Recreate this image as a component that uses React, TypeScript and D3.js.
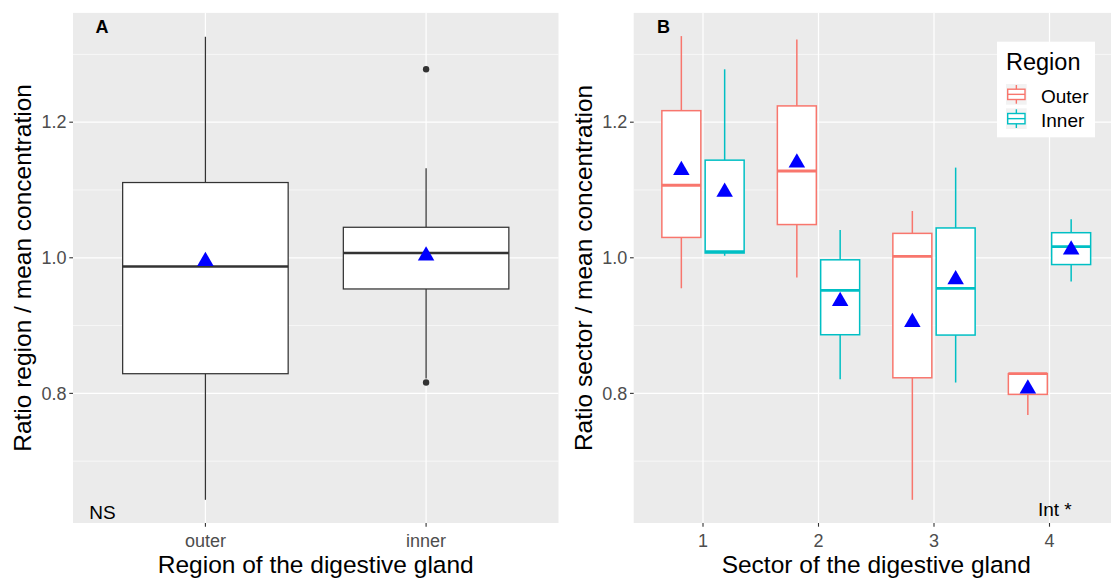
import React from "react";
import * as d3 from "d3";

// ---------- data ----------
const leftCats = ["outer", "inner"];
const leftLow = [0.643, 0.822];
const leftQ1 = [0.829, 0.954];
const leftMed = [0.987, 1.007];
const leftQ3 = [1.111, 1.045];
const leftHigh = [1.326, 1.132];
const leftMean = [0.995, 1.003];
const leftOutliers = [[], [1.278, 0.816]];

const sectors = ["1", "2", "3", "4"];
const regions = ["Outer", "Inner"];
const regionColors = ["#F8766D", "#00BFC4"];
const outerLow = [0.955, 0.971, 0.643, 0.768];
const outerQ1 = [1.03, 1.049, 0.823, 0.7985];
const outerMed = [1.107, 1.128, 1.002, 0.829];
const outerQ3 = [1.217, 1.224, 1.036, 0.829];
const outerHigh = [1.327, 1.322, 1.069, 0.829];
const outerMean = [1.129, 1.14, 0.905, 0.807];
const innerLow = [1.003, 0.821, 0.816, 0.965];
const innerQ1 = [1.007, 0.8865, 0.886, 0.99];
const innerMed = [1.009, 0.952, 0.955, 1.0166];
const innerQ3 = [1.144, 0.997, 1.044, 1.037];
const innerHigh = [1.278, 1.041, 1.133, 1.057];
const innerMean = [1.097, 0.936, 0.968, 1.012];

const yTicks = [0.8, 1.0, 1.2];
const yTickLabels = ["0.8", "1.0", "1.2"];
const yMinor = [0.7, 0.9, 1.1, 1.3];

const FONT = "'Liberation Sans', Arial, Helvetica, sans-serif";

type Box = { x: number; hw: number; low: number; q1: number; med: number; q3: number; high: number; mean: number; outliers: number[]; color: string; sw: number; mw: number };

const PANEL_TOP = 12.9;
const PANEL_BOTTOM = 523;

function makeY() {
  const all = [...leftLow, ...leftHigh, ...outerLow, ...outerHigh, ...innerLow, ...innerHigh, ...leftOutliers.flat()];
  const lo = d3.min(all) as number;
  const hi = d3.max(all) as number;
  const pad = (hi - lo) * 0.05;
  return d3.scaleLinear().domain([lo - pad, hi + pad]).range([PANEL_BOTTOM, PANEL_TOP]);
}

function Tri({ cx, cy }: { cx: number; cy: number }) {
  const r = 9.5;
  const hw = 8.25;
  return <path d={`M${cx},${cy - r}L${cx + hw},${cy + r / 2}L${cx - hw},${cy + r / 2}Z`} fill="#0000FF" />;
}

function BoxMark({ b, y }: { b: Box; y: d3.ScaleLinear<number, number> }) {
  return (
    <g>
      <line x1={b.x} x2={b.x} y1={y(b.high)} y2={y(b.q3)} stroke={b.color} strokeWidth={b.sw} />
      <line x1={b.x} x2={b.x} y1={y(b.q1)} y2={y(b.low)} stroke={b.color} strokeWidth={b.sw} />
      <rect x={b.x - b.hw} y={y(b.q3)} width={2 * b.hw} height={Math.max(0.01, y(b.q1) - y(b.q3))} fill="#fff" stroke={b.color} strokeWidth={b.sw} />
      <line x1={b.x - b.hw} x2={b.x + b.hw} y1={y(b.med)} y2={y(b.med)} stroke={b.color} strokeWidth={b.mw} />
      {b.outliers.map((o, i) => (
        <circle key={i} cx={b.x} cy={y(o)} r={3.2} fill={b.color} />
      ))}
    </g>
  );
}

function Panel({ left, right, cats, y, children, label, xTitle, yTitle, yTitleX }: any) {
  const x = d3.scalePoint<string>().domain(cats).range([left, right]).padding(0.6);
  return (
    <g>
      <rect x={left} y={PANEL_TOP} width={right - left} height={PANEL_BOTTOM - PANEL_TOP} fill="#EBEBEB" />
      {yMinor.map((v) => (
        <line key={"m" + v} x1={left} x2={right} y1={y(v)} y2={y(v)} stroke="#fff" strokeWidth={0.6} />
      ))}
      {yTicks.map((v) => (
        <line key={"g" + v} x1={left} x2={right} y1={y(v)} y2={y(v)} stroke="#fff" strokeWidth={1.2} />
      ))}
      {cats.map((c: string) => (
        <line key={"v" + c} x1={x(c)} x2={x(c)} y1={PANEL_TOP} y2={PANEL_BOTTOM} stroke="#fff" strokeWidth={1.2} />
      ))}
      {children(x)}
      {yTicks.map((v, i) => (
        <g key={"t" + v}>
          <line x1={left - 3.7} x2={left} y1={y(v)} y2={y(v)} stroke="#333" strokeWidth={1.1} />
          <text x={left - 6.5} y={y(v)} dy="0.35em" textAnchor="end" fontSize={18} fill="#4D4D4D" fontFamily={FONT}>
            {yTickLabels[i]}
          </text>
        </g>
      ))}
      {cats.map((c: string) => (
        <g key={"xt" + c}>
          <line x1={x(c)} x2={x(c)} y1={PANEL_BOTTOM} y2={PANEL_BOTTOM + 3.7} stroke="#333" strokeWidth={1.1} />
          <text x={x(c)} y={546.5} textAnchor="middle" fontSize={18} fill="#4D4D4D" fontFamily={FONT}>
            {c}
          </text>
        </g>
      ))}
      <text x={(left + right) / 2} y={573} textAnchor="middle" fontSize={24.5} fill="#000" fontFamily={FONT}>
        {xTitle}
      </text>
      <text transform={`translate(${yTitleX},${(PANEL_TOP + PANEL_BOTTOM) / 2}) rotate(-90)`} textAnchor="middle" fontSize={24.5} fill="#000" fontFamily={FONT}>
        {yTitle}
      </text>
      <text x={label.x} y={33} fontSize={18} fontWeight="bold" fill="#000" fontFamily={FONT}>
        {label.text}
      </text>
    </g>
  );
}

export default function App() {
  const y = makeY();
  const L = { left: 73, right: 558.5 };
  const R = { left: 633.7, right: 1118.8 };

  return (
    <svg width={1111} height={578} style={{ position: "absolute", left: 0, top: 0, background: "#fff" }}>
      <rect width={1111} height={578} fill="#fff" />
      <Panel left={L.left} right={L.right} cats={leftCats} y={y} label={{ x: 95.5, text: "A" }} xTitle="Region of the digestive gland" yTitle="Ratio region / mean concentration" yTitleX={31.4}>
        {(x: d3.ScalePoint<string>) => {
          const hw = 0.375 * x.step();
          return (
            <g>
              {leftCats.map((c, i) => (
                <BoxMark
                  key={c}
                  y={y}
                  b={{ x: x(c) as number, hw, low: leftLow[i], q1: leftQ1[i], med: leftMed[i], q3: leftQ3[i], high: leftHigh[i], mean: leftMean[i], outliers: leftOutliers[i], color: "#333333", sw: 1.25, mw: 2.5 }}
                />
              ))}
              {leftCats.map((c, i) => (
                <Tri key={"tri" + c} cx={x(c) as number} cy={y(leftMean[i])} />
              ))}
              <text x={89.3} y={519} fontSize={19} fill="#000" fontFamily={FONT}>NS</text>
            </g>
          );
        }}
      </Panel>
      <Panel left={R.left} right={R.right} cats={sectors} y={y} label={{ x: 657, text: "B" }} xTitle="Sector of the digestive gland" yTitle="Ratio sector / mean concentration" yTitleX={591.6}>
        {(x: d3.ScalePoint<string>) => {
          const step = x.step();
          const off = 0.1875 * step;
          const hw = 0.16875 * step;
          const series = [
            { low: outerLow, q1: outerQ1, med: outerMed, q3: outerQ3, high: outerHigh, mean: outerMean },
            { low: innerLow, q1: innerQ1, med: innerMed, q3: innerQ3, high: innerHigh, mean: innerMean },
          ];
          return (
            <g>
              {sectors.map((s, i) =>
                series.map((sr, j) => (
                  <BoxMark
                    key={s + j}
                    y={y}
                    b={{ x: (x(s) as number) + (j === 0 ? -off : off), hw, low: sr.low[i], q1: sr.q1[i], med: sr.med[i], q3: sr.q3[i], high: sr.high[i], mean: sr.mean[i], outliers: [], color: regionColors[j], sw: 1.5, mw: 2.8 }}
                  />
                ))
              )}
              {sectors.map((s, i) =>
                series.map((sr, j) => <Tri key={"tri" + s + j} cx={(x(s) as number) + (j === 0 ? -off : off)} cy={y(sr.mean[i])} />)
              )}
              <text x={1037.9} y={516} fontSize={19} fill="#000" fontFamily={FONT}>Int *</text>
              <g>
                <rect x={997} y={41.7} width={98} height={95.6} fill="#fff" />
                <text x={1006} y={69.5} fontSize={23.5} fill="#000" fontFamily={FONT}>Region</text>
                {regions.map((r, k) => {
                  const ky = 84 + k * 24.3;
                  const kx = 1006;
                  const ks = 20.7;
                  const cx = kx + ks / 2;
                  return (
                    <g key={r}>
                      <rect x={kx} y={ky} width={ks} height={ks} fill="#F2F2F2" />
                      <line x1={cx} x2={cx} y1={ky + 1} y2={ky + ks - 1} stroke={regionColors[k]} strokeWidth={1.4} />
                      <rect x={kx + 1.7} y={ky + 5.2} width={ks - 3.4} height={ks - 10.4} fill="#fff" stroke={regionColors[k]} strokeWidth={1.4} />
                      <line x1={kx + 1.7} x2={kx + ks - 1.7} y1={ky + ks / 2} y2={ky + ks / 2} stroke={regionColors[k]} strokeWidth={1.4} />
                      <text x={1041} y={ky + 18.7} fontSize={19} fill="#000" fontFamily={FONT}>{r}</text>
                    </g>
                  );
                })}
              </g>
            </g>
          );
        }}
      </Panel>
    </svg>
  );
}
